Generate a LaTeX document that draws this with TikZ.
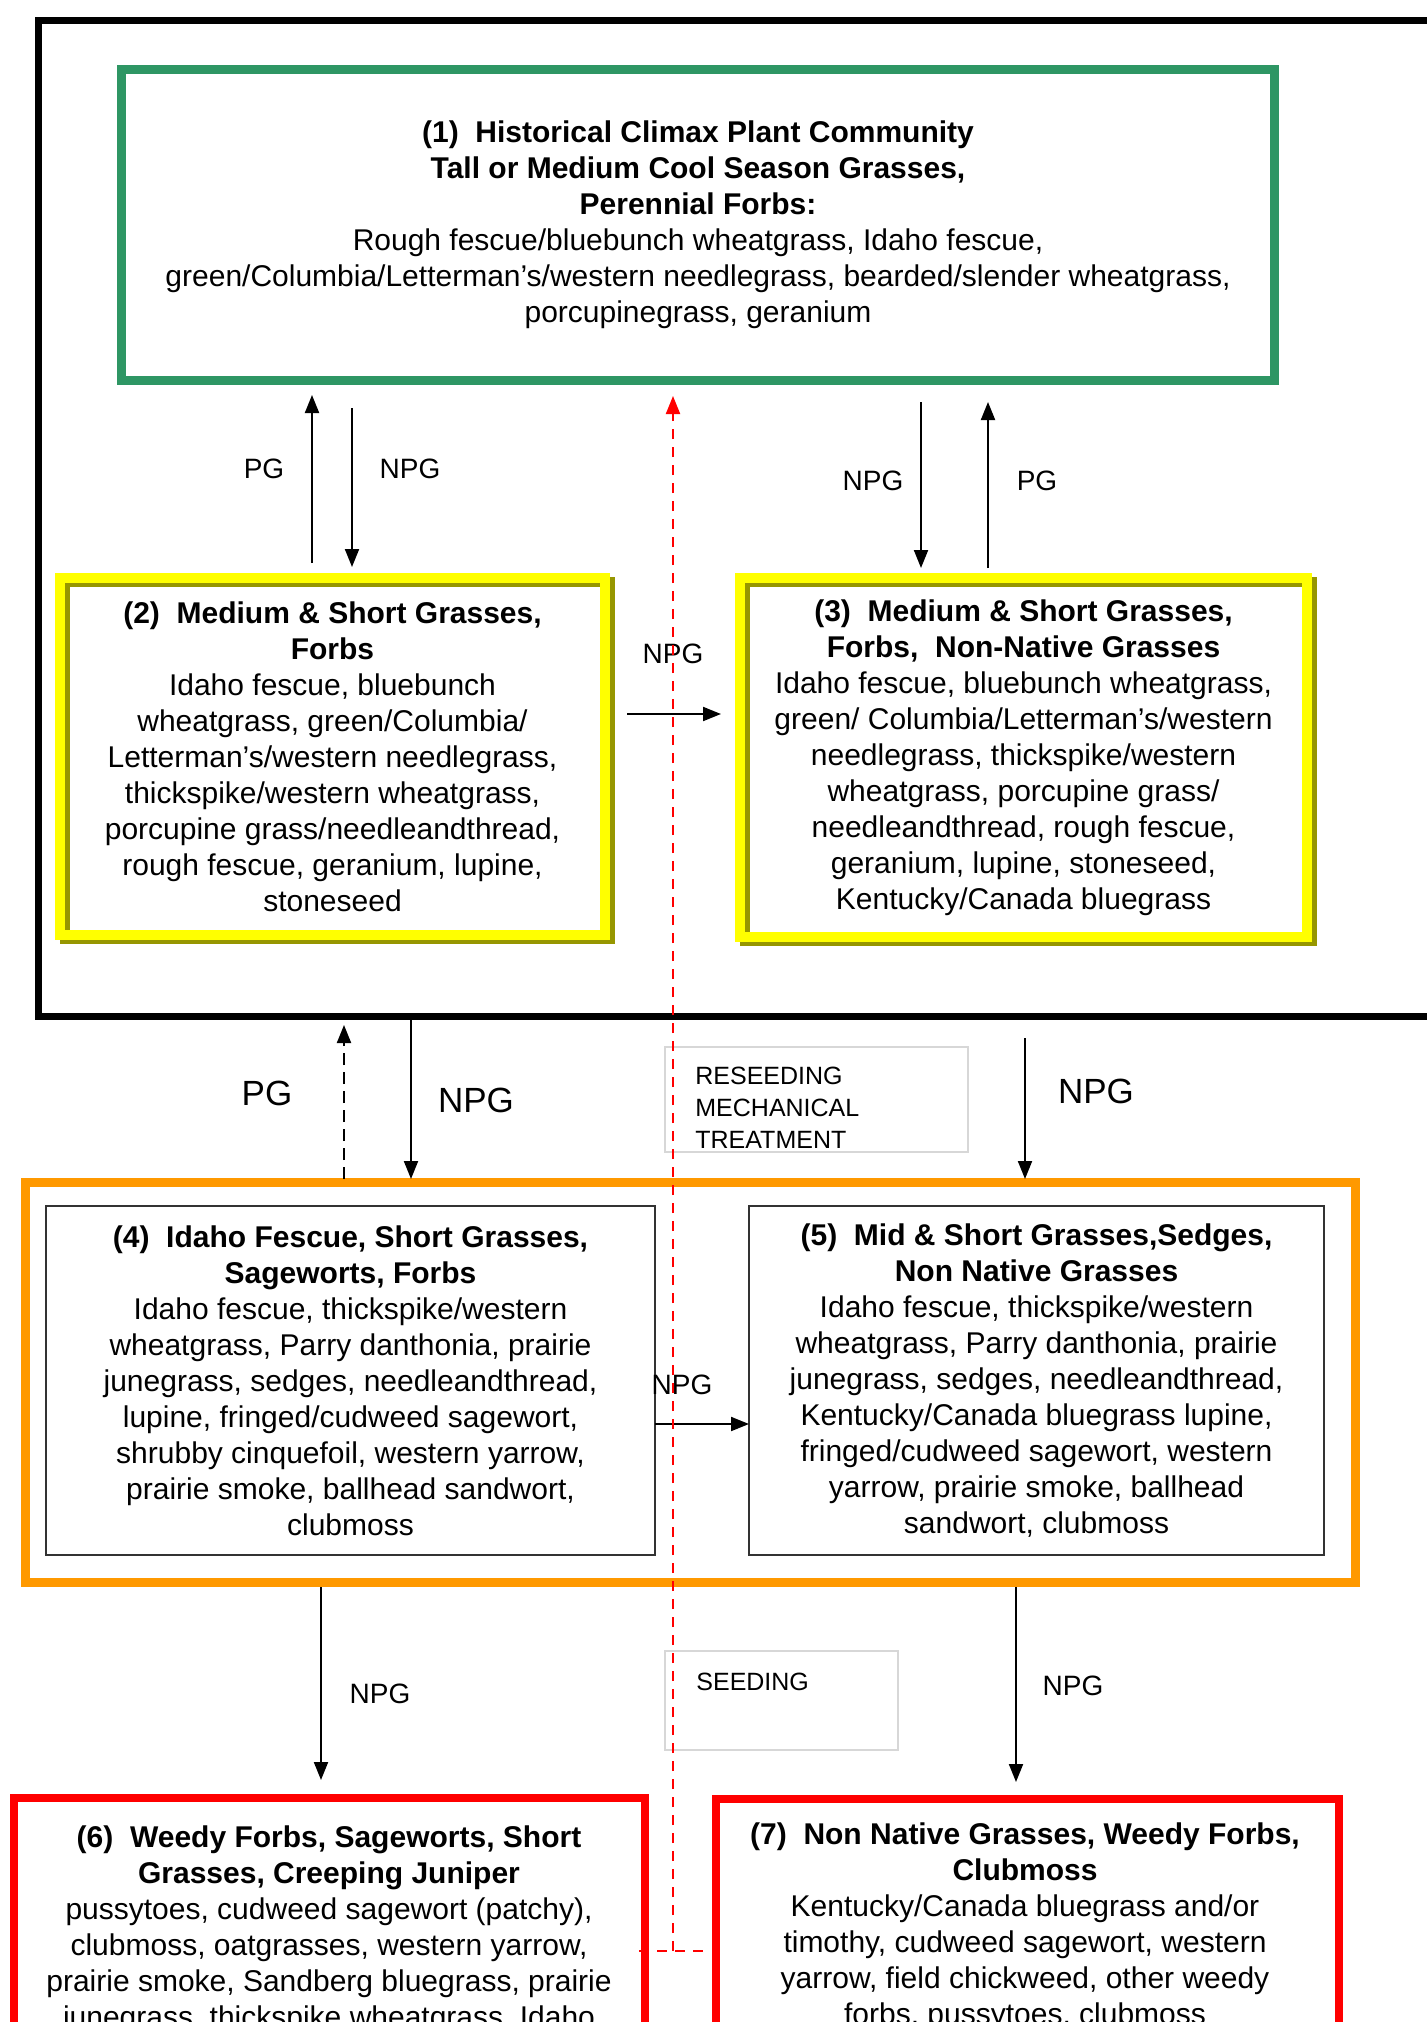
\documentclass[tikz,border=0pt]{standalone}
\usepackage{fontspec}
\setmainfont{Liberation Sans}
\usetikzlibrary{arrows.meta,calc}
\definecolor{grn}{RGB}{46,150,100}
\definecolor{ylw}{RGB}{255,255,0}
\definecolor{olv}{RGB}{150,150,0}
\definecolor{org}{RGB}{255,153,0}
\definecolor{rd}{RGB}{255,0,0}
\definecolor{lgr}{RGB}{215,215,215}
\definecolor{dgr}{RGB}{50,50,50}
\pgfdeclarelayer{bg}
\pgfsetlayers{bg,main}
\begin{document}
\begin{tikzpicture}[x=0.5pt,y=-0.5pt,
  box/.style={inner sep=0pt, outer sep=0pt},
  body/.style={font=\fontsize{15}{18}\selectfont, align=center},
  greenbox/.style={box, draw=grn, line width=4.5pt},
  yellowbox/.style={box, draw=ylw, line width=5pt},
  orangebox/.style={box, draw=org, line width=4.5pt},
  greybox/.style={box, draw=dgr, line width=1.25pt},
  redbox/.style={box, draw=rd, line width=4pt},
  notebox/.style={box, draw=lgr, line width=0.75pt},
  notetext/.style={font=\fontsize{12.5}{16}\selectfont, align=left, inner sep=0pt},
  arr/.style={draw=black, line width=1pt, -{Triangle[length=9pt,width=7pt]}},
  lbl/.style={font=\fontsize{14}{16}\selectfont, inner sep=0pt},
  biglbl/.style={font=\fontsize{17.5}{20}\selectfont, inner sep=0pt},
  reddash/.style={draw=rd, line width=1pt, dash pattern=on 5pt off 4pt}
]
\useasboundingbox (0,0) rectangle (1426,2022);

% outer black frame
\node[box, draw=black, line width=3.5pt, minimum width=730.75pt, minimum height=498pt] (frame) at (769.25,518.5) {};

% (1)
\node[greenbox, minimum width=576.5pt, minimum height=155.5pt, body] (b1) at (698,225)
{\textbf{(1)~~Historical Climax Plant Community}\\
 \textbf{Tall or Medium Cool Season Grasses,}\\
 \textbf{Perennial Forbs:}\\
 Rough fescue/bluebunch wheatgrass, Idaho fescue,\\
 green/Columbia/Letterman's/western needlegrass, bearded/slender wheatgrass,\\
 porcupinegrass, geranium};

% (2)
\node[yellowbox, minimum width=272.5pt, minimum height=178.5pt, body] (b2) at (332.5,756.5)
{\textbf{(2)~~Medium \& Short Grasses,}\\
 \textbf{Forbs}\\
 Idaho fescue, bluebunch\\
 wheatgrass, green/Columbia/\\
 Letterman's/western needlegrass,\\
 thickspike/western wheatgrass,\\
 porcupine grass/needleandthread,\\
 rough fescue, geranium, lupine,\\
 stoneseed};

% (3)
\node[yellowbox, minimum width=283.5pt, minimum height=179.5pt, body] (b3) at (1023.5,757.5)
{\textbf{(3)~~Medium \& Short Grasses,}\\
 \textbf{Forbs,~~Non-Native Grasses}\\
 Idaho fescue, bluebunch wheatgrass,\\
 green/ Columbia/Letterman's/western\\
 needlegrass, thickspike/western\\
 wheatgrass, porcupine grass/\\
 needleandthread, rough fescue,\\
 geranium, lupine, stoneseed,\\
 Kentucky/Canada bluegrass};

\begin{pgfonlayer}{bg}
  \draw[olv, line width=5pt] ($(b2.north west)+(5,4)$) rectangle ($(b2.south east)+(5,4)$);
  \draw[olv, line width=5pt] ($(b3.north west)+(5,4)$) rectangle ($(b3.south east)+(5,4)$);
\end{pgfonlayer}

% orange group
\node[orangebox, minimum width=665pt, minimum height=200pt] (grp) at (690.5,1382.5) {};

% (4)
\node[greybox, minimum width=304.5pt, minimum height=174.5pt, body] (b4) at (350.5,1380.5)
{\textbf{(4)~~Idaho Fescue, Short Grasses,}\\
 \textbf{Sageworts, Forbs}\\
 Idaho fescue, thickspike/western\\
 wheatgrass, Parry danthonia, prairie\\
 junegrass, sedges, needleandthread,\\
 lupine, fringed/cudweed sagewort,\\
 shrubby cinquefoil, western yarrow,\\
 prairie smoke, ballhead sandwort,\\
 clubmoss};

% (5)
\node[greybox, minimum width=287.5pt, minimum height=174.5pt, body] (b5) at (1036.5,1380.5)
{\textbf{(5)~~Mid \& Short Grasses,Sedges,}\\
 \textbf{Non Native Grasses}\\
 Idaho fescue, thickspike/western\\
 wheatgrass, Parry danthonia, prairie\\
 junegrass, sedges, needleandthread,\\
 Kentucky/Canada bluegrass lupine,\\
 fringed/cudweed sagewort, western\\
 yarrow, prairie smoke, ballhead\\
 sandwort, clubmoss};

% (6) and (7)
\node[redbox, minimum width=315.5pt, minimum height=201pt] (b6) at (329.5,1999) {};
\node[redbox, minimum width=311.5pt, minimum height=200.5pt] (b7) at (1027.5,1999.5) {};
\node[body, inner sep=0pt, anchor=north] (t6) at (329,1825)
{\textbf{(6)~~Weedy Forbs, Sageworts, Short}\\
 \textbf{Grasses, Creeping Juniper}\\
 pussytoes, cudweed sagewort (patchy),\\
 clubmoss, oatgrasses, western yarrow,\\
 prairie smoke, Sandberg bluegrass, prairie\\
 junegrass, thickspike wheatgrass, Idaho};
\node[body, inner sep=0pt, anchor=north] (t7) at (1025,1822)
{\textbf{(7)~~Non Native Grasses, Weedy Forbs,}\\
 \textbf{Clubmoss}\\
 Kentucky/Canada bluegrass and/or\\
 timothy, cudweed sagewort, western\\
 yarrow, field chickweed, other weedy\\
 forbs, pussytoes, clubmoss};

% note boxes
\node[notebox, minimum width=151.5pt, minimum height=52.5pt] (rs) at (816.5,1099.5) {};
\node[notetext, anchor=west] (rst) at (695,1108) {RESEEDING\\MECHANICAL\\TREATMENT};
\node[notebox, minimum width=116.5pt, minimum height=49.5pt] (sd) at (781.5,1700.5) {};
\node[notetext, anchor=west] (sdt) at (696,1682) {SEEDING};

% arrows between 1 and 2
\draw[arr] ($(b2.north)+(-20.5,-15)$) -- ($(b1.south)+(-386,14.5)$);
\draw[arr] ($(b1.south)+(-346,27.5)$) -- ($(b2.north)+(19.5,-11)$);
\node[lbl] (l12a) at (264,469) {PG};
\node[lbl] (l12b) at (410,469) {NPG};

% arrows between 1 and 3
\draw[arr] ($(b1.south)+(223,21.5)$) -- ($(b3.north)+(-102.5,-10)$);
\draw[arr] ($(b3.north)+(-35.5,-10)$) -- ($(b1.south)+(290,21.5)$);
\node[lbl] (l13a) at (873,481) {NPG};
\node[lbl] (l13b) at (1037,481) {PG};

% 2 -> 3
\draw[arr] ($(b2.east)+(22,-42.5)$) -- ($(b3.west)+(-19,-43.5)$);
\node[lbl] (l23) at (673,654) {NPG};

% frame <-> group
\draw[arr, dash pattern=on 6pt off 3.5pt] ($(grp.north)+(-346.5,-3.5)$) -- ($(frame.south)+(-425.25,8.5)$);
\draw[arr] ($(frame.south)+(-358.25,3.5)$) -- ($(grp.north)+(-279.5,-3.5)$);
\draw[arr] ($(frame.south)+(255.75,21.5)$) -- ($(grp.north)+(334.5,-3.5)$);
\node[biglbl] (lfa) at (267,1093) {PG};
\node[biglbl] (lfb) at (476,1100) {NPG};
\node[biglbl] (lfc) at (1096,1091) {NPG};

% 4 -> 5
\draw[arr] ($(b4.east)+(0,43.5)$) -- ($(b5.west)+(0,43.5)$);
\node[lbl] (l45) at (682,1385) {NPG};

% group -> 6, 7
\draw[arr] ($(grp.south)+(-369.5,4.5)$) -- ($(b6.north)+(-8.5,-18)$);
\draw[arr] ($(grp.south)+(325.5,4.5)$) -- ($(b7.north)+(-11.5,-17)$);
\node[lbl] (l6) at (380,1694) {NPG};
\node[lbl] (l7) at (1073,1686) {NPG};

% red dashed seeding path
\coordinate (rj) at ($(b6.east)+(28,-48)$);
\draw[reddash] ($(b6.east)+(-6,-48)$) -- ($(b7.west)+(-7,-48.5)$);
\draw[reddash, -{Triangle[length=9pt,width=7pt,fill=rd]}] (rj) -- ($(b1.south)+(-25,15.5)$);
\end{tikzpicture}
\end{document}
